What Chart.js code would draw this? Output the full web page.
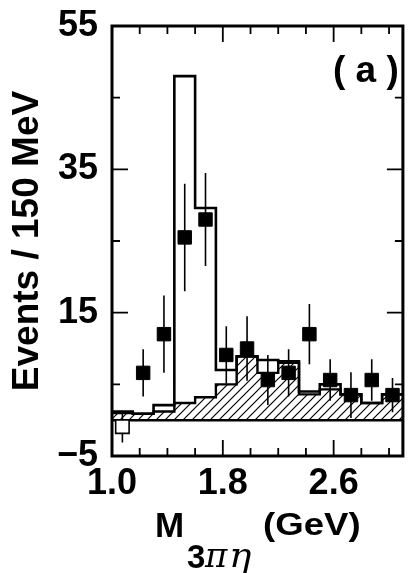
<!DOCTYPE html>
<html><head><meta charset="utf-8">
<script src="https://cdn.jsdelivr.net/npm/chart.js@4"></script>
<style>
html,body{margin:0;padding:0;background:#fff;}
#wrap{position:relative;width:414px;height:573px;overflow:hidden;}
#c{position:absolute;left:0;top:0;}
.lbl{position:absolute;font-family:"Liberation Sans",Arial,sans-serif;font-weight:bold;color:#000;white-space:nowrap;line-height:1;transform-origin:0 0;}
.gk{font-family:"DejaVu Serif","Liberation Serif",serif;font-style:italic;font-weight:normal;}
</style></head><body>
<div id="wrap">
<canvas id="c" width="414" height="573"></canvas>
<div class="lbl" style="left:333px;top:51px;font-size:37px;">( a )</div>
<div class="lbl" style="left:155px;top:507px;font-size:35px;">M</div>
<div class="lbl" style="left:187px;top:540px;font-size:33px;">3</div>
<div class="lbl gk" style="left:205px;top:538px;font-size:34px;">π</div>
<div class="lbl gk" style="left:229px;top:538px;font-size:34px;transform:scaleX(1.1);">η</div>
<div class="lbl" style="left:263px;top:509px;font-size:31px;transform:scaleX(1.18);">(GeV)</div>
</div>
<script>
// ---- data ----
const binCenters   = [1.075,1.225,1.375,1.525,1.675,1.825,1.975,2.125,2.275,2.425,2.575,2.725,2.875,3.025];
const binWidth     = 0.15;
const dataCounts   = [-0.9,6.6,12.0,25.5,28.0,9.1,10.0,5.6,6.6,12.0,5.6,3.5,5.6,3.5];
const dataErrors   = [2.2,3.3,5.4,7.5,6.5,4.0,4.5,3.5,3.3,4.2,2.9,3.2,2.9,2.4];
const openMarker   = [true,false,false,false,false,false,false,false,false,false,false,false,false,false];
const totalMC      = [1.2,0.9,2.1,48.0,29.6,7.0,8.9,8.4,8.2,4.0,5.0,3.6,2.4,3.6];
const backgroundMC = [1.0,0.9,1.2,2.4,3.2,5.0,8.9,6.6,8.0,3.6,4.3,3.6,2.4,3.6];
const xTickValues  = [1.0,1.2,1.4,1.6,1.8,2.0,2.2,2.4,2.6,2.8,3.0];
const xLabelValues = [1.0,1.8,2.6];
const xMajorTicks  = [1.8,2.6];
const yTickValues  = [-5,5,15,25,35,45,55];
const yLabelValues = [-5,15,35,55];
const yMajorTicks  = [15,35];

function stepData(vals){
  const pts = vals.map((v,i)=>({x: binCenters[i]-binWidth/2, y: v}));
  const last = binCenters.length-1;
  pts.push({x: binCenters[last]+binWidth/2, y: vals[last]});
  return pts;
}
function errData(){
  const pts=[];
  binCenters.forEach((c,i)=>{
    pts.push({x:c,y:dataCounts[i]-dataErrors[i]});
    pts.push({x:c,y:dataCounts[i]+dataErrors[i]});
    pts.push({x:c,y:null});
  });
  return pts;
}
function hatchPattern(){
  const s=9, cv=document.createElement('canvas'); cv.width=s; cv.height=s;
  const g=cv.getContext('2d'); g.strokeStyle='#000'; g.lineWidth=1.2;
  g.beginPath();
  g.moveTo(0,s); g.lineTo(s,0);
  g.moveTo(-s/2,s/2); g.lineTo(s/2,-s/2);
  g.moveTo(s/2,s*1.5); g.lineTo(s*1.5,s/2);
  g.stroke();
  return g.createPattern(cv,'repeat');
}

const framePlugin = {
  id:'frame',
  beforeDatasetsDraw(chart){
    const {ctx, chartArea:a, scales:{y}} = chart;
    const y0 = y.getPixelForValue(0);
    ctx.save(); ctx.strokeStyle='#000'; ctx.lineWidth=2.5;
    ctx.beginPath(); ctx.moveTo(a.left,y0); ctx.lineTo(a.right,y0); ctx.stroke();
    ctx.restore();
  },
  afterDatasetsDraw(chart){
    const {ctx, chartArea:a, scales:{x,y}} = chart;
    ctx.save(); ctx.strokeStyle='#000'; ctx.lineWidth=1.8;
    ctx.beginPath();
    xTickValues.forEach(v=>{
      const p=x.getPixelForValue(v), L=xMajorTicks.includes(v)?16:8;
      ctx.moveTo(p,a.bottom); ctx.lineTo(p,a.bottom-L);
      ctx.moveTo(p,a.top); ctx.lineTo(p,a.top+L);
    });
    yTickValues.forEach(v=>{
      const p=y.getPixelForValue(v), L=yMajorTicks.includes(v)?16:8;
      ctx.moveTo(a.left,p); ctx.lineTo(a.left+L,p);
      ctx.moveTo(a.right,p); ctx.lineTo(a.right-L,p);
    });
    ctx.stroke();
    ctx.lineWidth=3;
    ctx.strokeRect(a.left,a.top,a.right-a.left,a.bottom-a.top);
    ctx.restore();
  }
};

const tickFont = {family:'"Liberation Sans", Arial, sans-serif', weight:'bold', size:36};

new Chart(document.getElementById('c'), {
  type:'line',
  data:{datasets:[
    {type:'scatter', label:'data', data: binCenters.map((c,i)=>({x:c,y:dataCounts[i]})),
     pointStyle:'rect', pointRadius:9.5, pointHoverRadius:9.5,
     pointBackgroundColor:(ctx)=>openMarker[ctx.dataIndex]?'#fff':'#000',
     pointBorderColor:'#000', pointBorderWidth:(ctx)=>openMarker[ctx.dataIndex]?1.6:1, order:1},
    {type:'line', label:'errors', data: errData(), borderColor:'#000', borderWidth:1.6,
     pointRadius:0, spanGaps:false, fill:false, order:2},
    {type:'line', label:'total', data: stepData(totalMC), stepped:true, borderColor:'#000', borderWidth:2.6,
     pointRadius:0, fill:false, order:3},
    {type:'line', label:'background', data: stepData(backgroundMC), stepped:true, borderColor:'#000', borderWidth:2.4,
     pointRadius:0, fill:'origin', backgroundColor: hatchPattern(), order:4}
  ]},
  options:{
    responsive:false, animation:false, events:[],
    layout:{padding:{top:26,right:2,left:0,bottom:0}},
    plugins:{legend:{display:false}, tooltip:{enabled:false}},
    scales:{
      x:{type:'linear', min:1.0, max:3.1,
        afterBuildTicks:(s)=>{s.ticks = xTickValues.map(v=>({value:v}));},
        afterFit:(s)=>{s.height=117; s.paddingLeft=0; s.paddingRight=0;},
        grid:{display:false, drawTicks:false}, border:{display:false},
        ticks:{autoSkip:false, maxRotation:0, padding:6, color:'#000', font:tickFont,
          callback:(v)=> xLabelValues.includes(v) ? v.toFixed(1) : ''}},
      y:{type:'linear', min:-5, max:55,
        afterBuildTicks:(s)=>{s.ticks = yTickValues.map(v=>({value:v}));},
        afterFit:(s)=>{s.width=112; s.paddingTop=0; s.paddingBottom=0;},
        grid:{display:false, drawTicks:false}, border:{display:false},
        ticks:{autoSkip:false, padding:14, color:'#000', font:tickFont,
          callback:(v)=> yLabelValues.includes(v) ? (v<0?'\u2212'+Math.abs(v):String(v)) : ''},
        title:{display:true, text:'Events / 150 MeV', color:'#000',
          font:{family:'"Liberation Sans", Arial, sans-serif', weight:'bold', size:37}, padding:{top:6,bottom:0}}}
    }
  },
  plugins:[framePlugin]
});
</script>
</body></html>
